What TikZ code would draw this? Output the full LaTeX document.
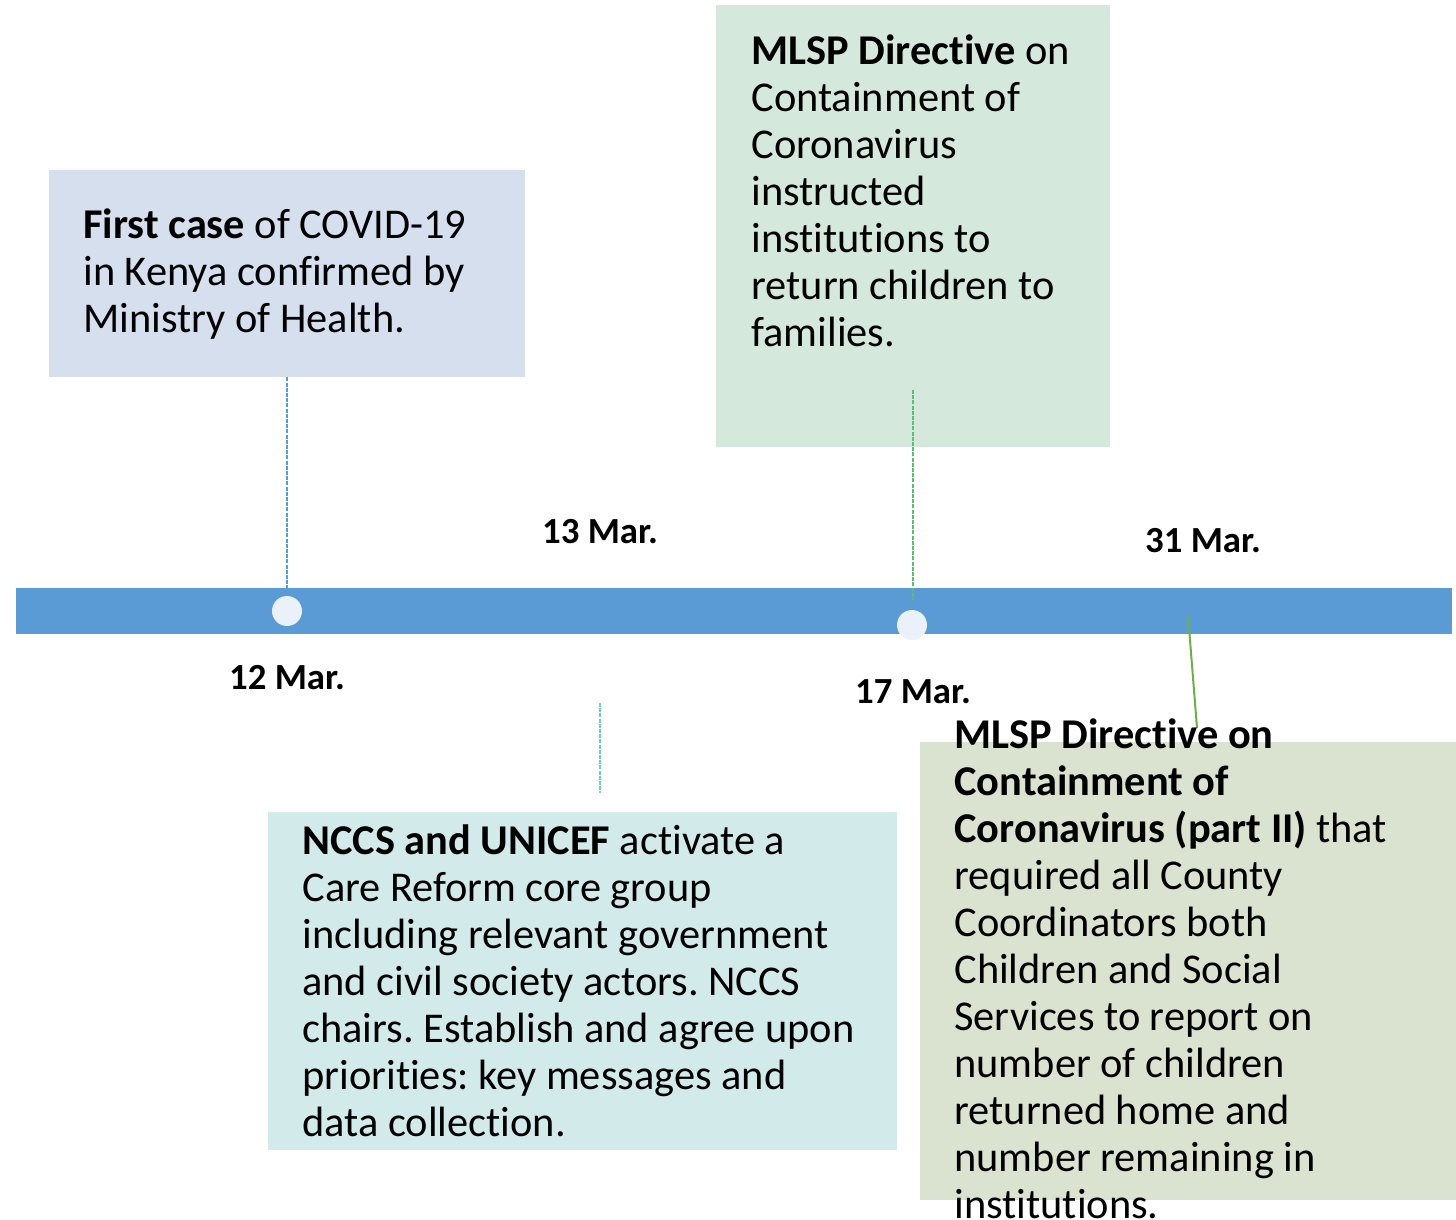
\documentclass[tikz,border=0pt]{standalone}
\usepackage{fontspec}
\setmainfont{Carlito}[RawFeature={-liga;-clig;-dlig;-calt;-hlig;-rlig}]
\usetikzlibrary{positioning}
\definecolor{barblue}{HTML}{5B9BD5}
\definecolor{dotfill}{HTML}{EAF1FA}
\definecolor{cardA}{HTML}{D5DFED}
\definecolor{cardB}{HTML}{D4E8DB}
\definecolor{cardC}{HTML}{D2EAEA}
\definecolor{cardD}{HTML}{D9E3D0}
\definecolor{lineteal}{HTML}{6FCFBF}
\definecolor{linegreen}{HTML}{5DBE70}
\definecolor{lineolive}{HTML}{70AD47}
\frenchspacing

\begin{document}
\begin{tikzpicture}[x=0.5pt,y=-0.5pt,
	card/.style={fill=#1,inner sep=0pt},
	txt/.style={anchor=north west,inner sep=0pt,align=left,font=\fontsize{21.2}{23.5}\selectfont},
	date/.style={font=\fontsize{18.4}{20}\selectfont\bfseries,inner sep=0pt},
	dot/.style={circle,fill=dotfill,minimum size=15pt,inner sep=0pt},
	link/.style={#1,line width=1.2pt,dash pattern=on 2pt off 0.6pt}]
	\useasboundingbox (0,0) rectangle (1456,1220);
	\node[card=cardA,minimum width=238pt,minimum height=103.5pt] (b12) at (287,273.5) {};
	\node[card=cardB,minimum width=197pt,minimum height=221pt] (b17) at (913,226) {};
	\node[card=cardC,minimum width=314.5pt,minimum height=169pt] (b13) at (582.5,981) {};
	\node[card=cardD,minimum width=268pt,minimum height=229pt] (b31) at (1188,971) {};
	\node[fill=barblue,minimum width=718pt,minimum height=23pt,inner sep=0pt] (bar) at (734,611) {};
	\node[dot] (p12) at (287,611) {};
	\node[dot] (p17) at (912,625) {};
	\coordinate (c13a) at (600,703); \coordinate (c13b) at (600,793);
	\coordinate (c17a) at (913,390); \coordinate (c17b) at (913,600);
	\coordinate (c31a) at (1188,615); \coordinate (c31b) at (1197,728);
	\draw[link=barblue] (b12.south) -- (b12.south |- bar.north);
	\draw[link=lineteal] (c13a) -- (c13b);
	\draw[link=linegreen] (c17a) -- (c17b);
	\draw[lineolive,line width=1pt] (c31a) -- (c31b);
	\node[date] (d12) at (287,678) {12 Mar.};
	\node[date] (d13) at (600,532) {13 Mar.};
	\node[date] (d17) at (913,692) {17 Mar.};
	\node[date] (d31) at (1203,541) {31 Mar.};
	\node[txt] (t12) at (83,208) {\textbf{First case} of COVID-19\\in Kenya confirmed by\\Ministry of Health.};
	\node[txt] (t17) at (751,34) {\textbf{MLSP Directive} on\\Containment of\\Coronavirus\\instructed\\institutions to\\return children to\\families.};
	\node[txt] (t13) at (302,824) {\textbf{NCCS and UNICEF} activate a\\Care Reform core group\\including relevant government\\and civil society actors. NCCS\\chairs. Establish and agree upon\\priorities: key messages and\\data collection.};
	\node[txt] (t31) at (954,718) {\textbf{MLSP Directive on}\\\textbf{Containment of}\\\textbf{Coronavirus (part II)} that\\required all County\\Coordinators both\\Children and Social\\Services to report on\\number of children\\returned home and\\number remaining in\\institutions.};
\end{tikzpicture}
\end{document}
